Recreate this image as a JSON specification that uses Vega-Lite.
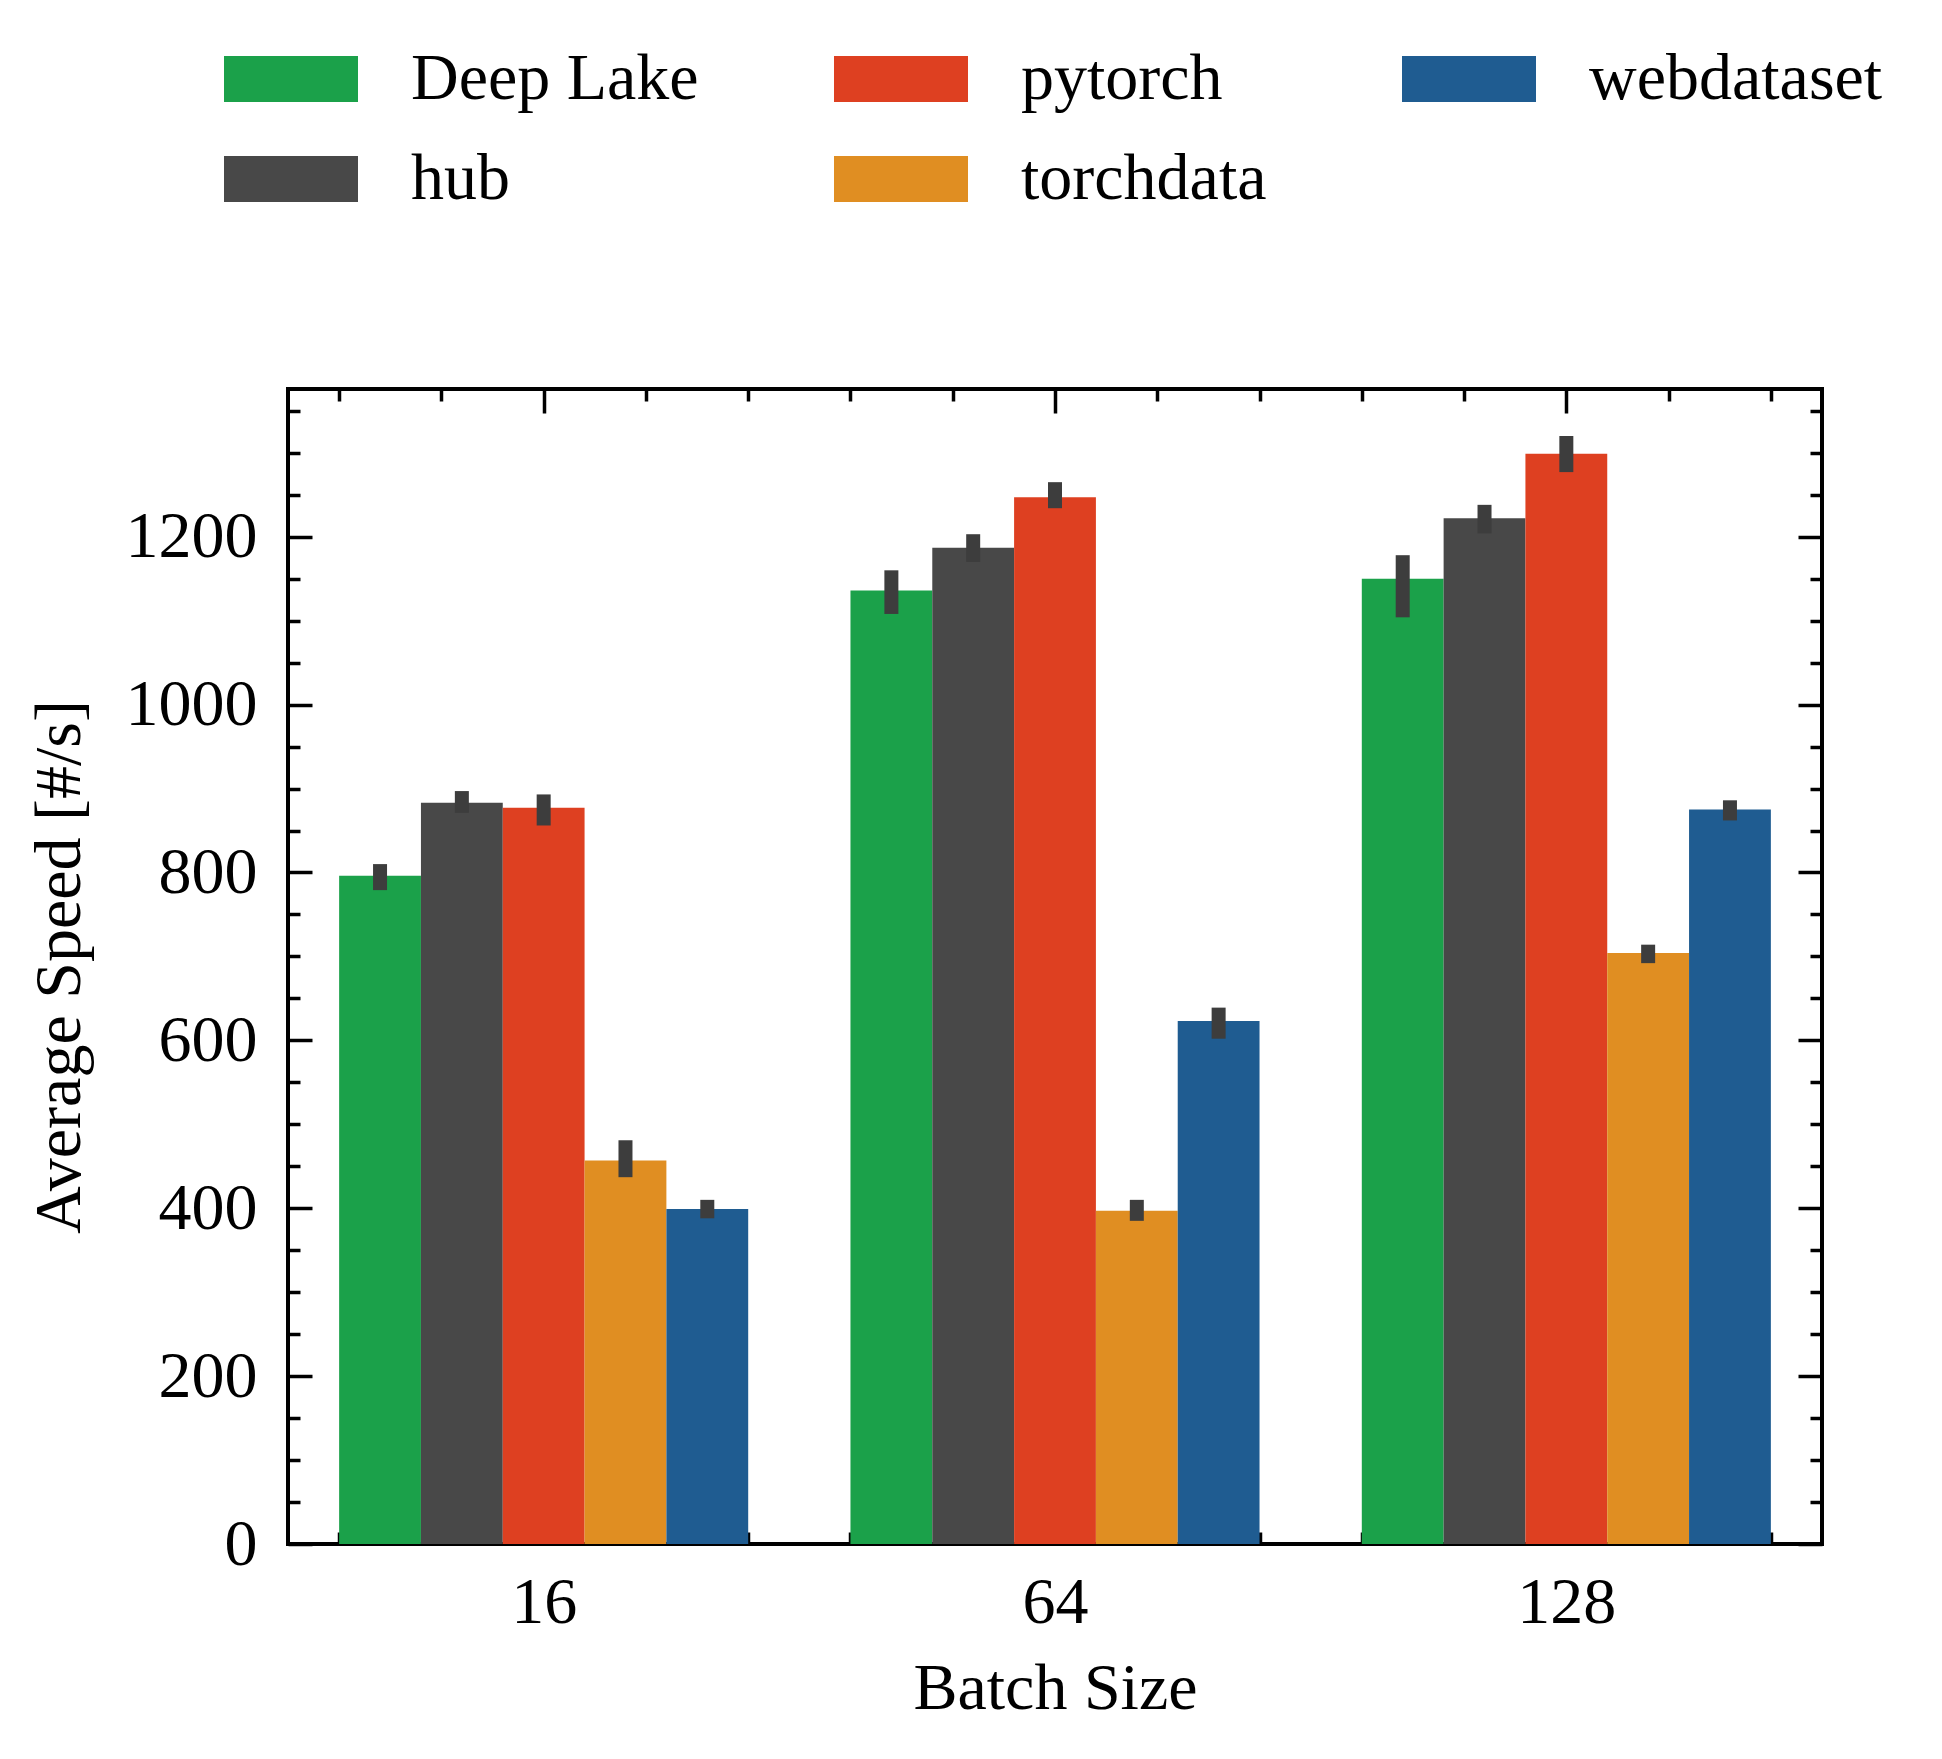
{
  "$schema": "https://vega.github.io/schema/vega-lite/v6.json",
  "width": 1534,
  "height": 1155,
  "autosize": {"type": "none"},
  "padding": {"left": 288, "top": 389, "right": 120, "bottom": 215},
  "background": "white",
  "config": {
    "view": {"stroke": "black", "strokeWidth": 4},
    "font": "Liberation Serif",
    "axis": {
      "grid": false,
      "domain": false,
      "labelFont": "Liberation Serif",
      "labelFontSize": 66,
      "labelColor": "black",
      "titleFont": "Liberation Serif",
      "titleFontSize": 66,
      "titleFontWeight": "normal",
      "titleColor": "black",
      "tickColor": "black",
      "tickWidth": 3.5
    },
    "legend": {
      "labelFont": "Liberation Serif",
      "labelFontSize": 66,
      "labelColor": "black",
      "labelLimit": 0
    }
  },
  "data": {
    "values": [
      {"batch": "16", "lib": "Deep Lake", "speed": 796, "lo": 779, "hi": 810},
      {"batch": "16", "lib": "hub", "speed": 883, "lo": 871, "hi": 897},
      {"batch": "16", "lib": "pytorch", "speed": 877, "lo": 856, "hi": 893},
      {"batch": "16", "lib": "torchdata", "speed": 457, "lo": 437, "hi": 481},
      {"batch": "16", "lib": "webdataset", "speed": 399, "lo": 388, "hi": 410},
      {"batch": "64", "lib": "Deep Lake", "speed": 1136, "lo": 1108, "hi": 1160},
      {"batch": "64", "lib": "hub", "speed": 1187, "lo": 1170, "hi": 1203},
      {"batch": "64", "lib": "pytorch", "speed": 1247, "lo": 1234, "hi": 1265},
      {"batch": "64", "lib": "torchdata", "speed": 397, "lo": 385, "hi": 410},
      {"batch": "64", "lib": "webdataset", "speed": 623, "lo": 602, "hi": 639},
      {"batch": "128", "lib": "Deep Lake", "speed": 1150, "lo": 1104, "hi": 1178},
      {"batch": "128", "lib": "hub", "speed": 1222, "lo": 1204, "hi": 1238},
      {"batch": "128", "lib": "pytorch", "speed": 1299, "lo": 1277, "hi": 1320},
      {"batch": "128", "lib": "torchdata", "speed": 704, "lo": 692, "hi": 714},
      {"batch": "128", "lib": "webdataset", "speed": 875, "lo": 862, "hi": 886}
    ]
  },
  "layer": [
    {
      "layer": [
        {
          "mark": {"type": "bar"},
          "encoding": {
            "x": {"field": "batch", "type": "ordinal", "sort": ["16", "64", "128"], "scale": {"paddingInner": 0.2, "paddingOuter": 0.1}, "axis": null},
            "xOffset": {"field": "lib", "type": "nominal", "sort": ["Deep Lake", "hub", "pytorch", "torchdata", "webdataset"], "scale": {"paddingInner": 0, "paddingOuter": 0}},
            "y": {
              "field": "speed", "type": "quantitative",
              "scale": {"domain": [0, 1376], "nice": false, "zero": true},
              "axis": {
                "orient": "left",
                "values": [0, 50, 100, 150, 200, 250, 300, 350, 400, 450, 500, 550, 600, 650, 700, 750, 800, 850, 900, 950, 1000, 1050, 1100, 1150, 1200, 1250, 1300, 1350],
                "format": "d",
                "labelExpr": "datum.value % 200 === 0 ? datum.label : ''",
                "tickSize": {"condition": {"test": "datum.value % 200 === 0", "value": -24}, "value": -12},
                "labelPadding": 55,
                "labelBaseline": "middle",
                "title": "Average Speed [#/s]",
                "titlePadding": 32
              }
            },
            "color": {
              "field": "lib", "type": "nominal",
              "scale": {
                "domain": ["Deep Lake", "pytorch", "webdataset", "hub", "torchdata"],
                "range": ["#1ba14a", "#de4021", "#1f5c91", "#484848", "#e08e22"]
              },
              "legend": {
                "title": null,
                "orient": "none",
                "legendX": -64,
                "legendY": -377,
                "direction": "horizontal",
                "columns": 3,
                "symbolType": "M-1,-0.343H1V0.343H-1Z",
                "symbolSize": 17956,
                "symbolStrokeWidth": 0,
                "symbolOpacity": 1,
                "labelOffset": 53,
                "labelLimit": 0,
                "columnPadding": 135,
                "rowPadding": -11,
                "padding": 0
              }
            }
          }
        },
        {
          "mark": {"type": "rule", "strokeWidth": 14, "color": "#3d3d3d"},
          "encoding": {
            "x": {"field": "batch", "type": "ordinal", "sort": ["16", "64", "128"], "scale": {"paddingInner": 0.2, "paddingOuter": 0.1}, "axis": null},
            "xOffset": {"field": "lib", "type": "nominal", "sort": ["Deep Lake", "hub", "pytorch", "torchdata", "webdataset"], "scale": {"paddingInner": 0, "paddingOuter": 0}},
            "y": {"field": "lo", "type": "quantitative"},
            "y2": {"field": "hi"}
          }
        }
      ]
    },
    {
      "mark": {"type": "point", "opacity": 0},
      "encoding": {
        "x": {
          "datum": 0, "type": "quantitative",
          "scale": {"domain": [-0.5, 2.5], "nice": false, "zero": false},
          "axis": {
            "orient": "bottom",
            "values": [-0.4, -0.2, 0, 0.2, 0.4, 0.6, 0.8, 1, 1.2, 1.4, 1.6, 1.8, 2, 2.2, 2.4],
            "labelExpr": "datum.value === 0 ? '16' : (datum.value === 1 ? '64' : (datum.value === 2 ? '128' : ''))",
            "tickSize": {"condition": {"test": "datum.value === 0 || datum.value === 1 || datum.value === 2", "value": -24}, "value": -12},
            "labelPadding": 50,
            "labelFlush": false,
            "labelOverlap": false,
            "title": "Batch Size",
            "titlePadding": 9
          }
        },
        "y": {
          "datum": 0, "type": "quantitative",
          "scale": {"domain": [0, 1376], "nice": false},
          "axis": {
            "orient": "right",
            "values": [0, 50, 100, 150, 200, 250, 300, 350, 400, 450, 500, 550, 600, 650, 700, 750, 800, 850, 900, 950, 1000, 1050, 1100, 1150, 1200, 1250, 1300, 1350],
            "labels": false,
            "tickSize": {"condition": {"test": "datum.value % 200 === 0", "value": -24}, "value": -12},
            "title": null
          }
        }
      }
    },
    {
      "mark": {"type": "point", "opacity": 0},
      "encoding": {
        "x": {
          "datum": 0, "type": "quantitative",
          "scale": {"domain": [-0.5, 2.5], "nice": false, "zero": false},
          "axis": {
            "orient": "top",
            "values": [-0.4, -0.2, 0, 0.2, 0.4, 0.6, 0.8, 1, 1.2, 1.4, 1.6, 1.8, 2, 2.2, 2.4],
            "labels": false,
            "tickSize": {"condition": {"test": "datum.value === 0 || datum.value === 1 || datum.value === 2", "value": -24}, "value": -12},
            "title": null
          }
        },
        "y": {
          "datum": 0, "type": "quantitative",
          "scale": {"domain": [0, 1376], "nice": false},
          "axis": null
        }
      }
    }
  ],
  "resolve": {"scale": {"x": "independent", "y": "independent"}}
}
